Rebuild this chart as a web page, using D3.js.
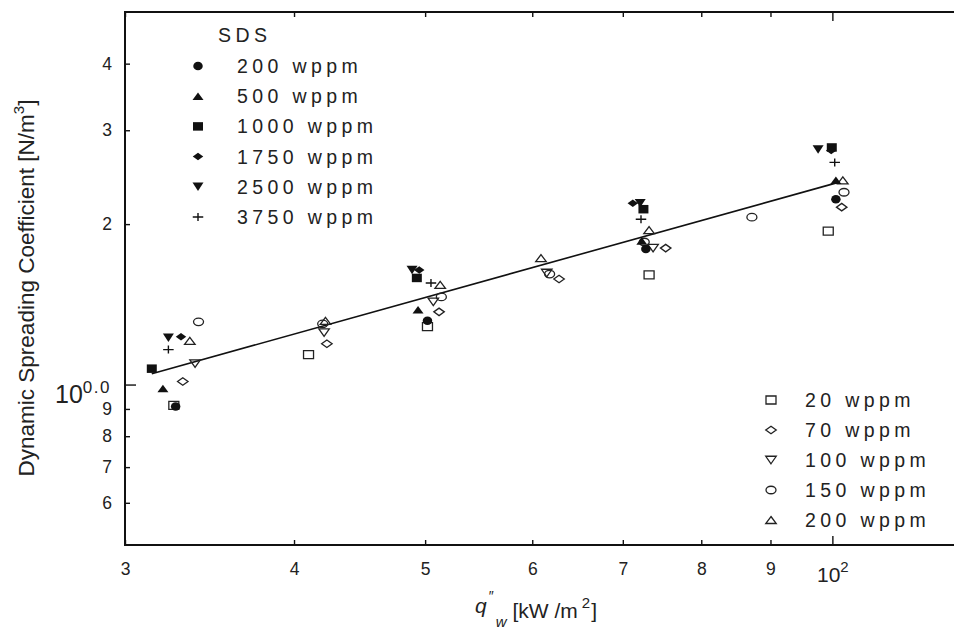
<!DOCTYPE html>
<html>
<head>
<meta charset="utf-8">
<script src="https://cdn.jsdelivr.net/npm/d3@7"></script>
<style>
body{margin:0;background:#fff}
svg{display:block;font-family:"Liberation Sans",Arial,Helvetica,sans-serif}
</style>
</head>
<body>
<svg id="chart" width="954" height="629"></svg>
<script>
// ---- data (heat flux q''w in kW/m2, coefficient values) ----
var xTicks = [30,40,50,60,70,80,90,100];
var yTicks = [6,7,8,9,10,20,30,40];

var sdsNames = ['200 wppm','500 wppm','1000 wppm','1750 wppm','2500 wppm','3750 wppm'];
var sdsKinds = ['circle','up','square','diamond','down','plus'];
var sdsQ = [
  [32.7,50.2,72.8,100.6],
  [32.0,49.4,72.3,100.6],
  [31.4,49.3,72.5,99.9],
  [33.0,49.5,71.2,99.8],
  [32.3,48.9,72.1,97.6],
  [32.3,50.5,72.2,100.4]
];
var sdsC = [
  [9.10,13.17,17.96,22.27],
  [9.83,13.81,18.59,24.16],
  [10.71,15.85,21.33,27.85],
  [12.29,16.40,21.89,27.50],
  [12.24,16.40,21.89,27.61],
  [11.63,15.51,20.43,26.11]
];

var lowNames = ['20 wppm','70 wppm','100 wppm','150 wppm','200 wppm'];
var lowKinds = ['square','diamond','down','circle','up'];
var lowQ = [
  [32.6,41.0,50.2,73.2,99.3],
  [33.1,42.3,51.2,62.8,75.3,101.6],
  [33.8,42.1,50.7,61.5,73.7],
  [34.0,42.0,51.4,61.8,72.6,87.2,102.0],
  [33.5,42.2,51.3,60.9,73.2,101.8]
];
var lowC = [
  [9.14,11.38,12.84,16.06,19.40],
  [10.13,11.93,13.69,15.78,18.03,21.52],
  [10.95,12.51,14.29,16.19,18.03],
  [13.11,13.00,14.60,16.12,18.51,20.61,22.95],
  [12.08,13.17,15.38,17.27,19.49,24.16]
];

var fitQ = [31.4,100.7];
var fitC = [10.48,23.9];

// ---- helpers ----
var sizes = {
  circle:[9.5,8.5], square:[10,8.5], up:[11,7.5], down:[11,8.5], diamond:[10.5,7.5], plus:[10.5,8]
};
var openSizes = {
  circle:[10,7.5], square:[10,8], up:[10.5,7], down:[10.5,7.5], diamond:[10.5,7.5]
};
function shape(kind,w,h){
  var a=w/2,b=h/2;
  if (kind=='circle') return 'M'+(-a)+',0A'+a+','+b+' 0 1,0 '+a+',0A'+a+','+b+' 0 1,0 '+(-a)+',0Z';
  if (kind=='square') return 'M'+(-a)+','+(-b)+'H'+a+'V'+b+'H'+(-a)+'Z';
  if (kind=='up') return 'M0,'+(-b)+'L'+a+','+b+'L'+(-a)+','+b+'Z';
  if (kind=='down') return 'M0,'+b+'L'+a+','+(-b)+'L'+(-a)+','+(-b)+'Z';
  if (kind=='diamond') return 'M0,'+(-b)+'L'+a+',0L0,'+b+'L'+(-a)+',0Z';
  return 'M'+(-a)+',0H'+a+'M0,'+(-b)+'V'+b;
}
function marker(sel,kind,filled){
  var s = filled ? sizes[kind] : openSizes[kind];
  var p = sel.append('path').attr('d',shape(kind,s[0],s[1]));
  if (kind=='plus') p.attr('fill','none').attr('stroke','#111').attr('stroke-width',1.4);
  else if (filled) p.attr('fill','#111');
  else p.attr('fill','none').attr('stroke','#222').attr('stroke-width',1.3);
  return p;
}

// ---- scales ----
var L = 125, R = 954, T = 12, B = 545;
var x = d3.scaleLog().domain([30,123]).range([L,R]);
var y = d3.scaleLog().domain([5,50]).range([B,T]);

var svg = d3.select('#chart');
var ink = '#111';

// axes
var gx = svg.append('g').attr('transform','translate(0,'+B+')')
  .call(d3.axisBottom(x).tickValues(xTicks).tickSize(-5).tickPadding(18)
    .tickFormat(function(d){return d==100?'':String(d/10);}));
var gt = svg.append('g').attr('transform','translate(0,'+T+')')
  .call(d3.axisTop(x).tickValues(xTicks).tickSize(-5).tickFormat(''));
var gy = svg.append('g').attr('transform','translate('+L+',0)')
  .call(d3.axisLeft(y).tickValues(yTicks).tickSize(-5).tickPadding(13)
    .tickFormat(function(d){return d==10?'':String(d<10?d:d/10);}));

[gx,gt,gy].forEach(function(g){
  g.select('.domain').remove();
  g.selectAll('.tick line').attr('stroke',ink).attr('stroke-width',1.4);
  g.selectAll('.tick text').attr('fill','#222').style('font-size','17.5px');
});
gx.selectAll('.tick line').filter(function(d){return d==100;}).attr('y2',-9);
gt.selectAll('.tick line').filter(function(d){return d==100;}).attr('y2',9);
gy.selectAll('.tick line').filter(function(d){return d==10;}).attr('x2',11);

// 10^2 label
var t100 = gx.selectAll('.tick').filter(function(d){return d==100;}).select('text')
  .attr('dy',null).attr('y',37).text('');
t100.append('tspan').style('font-size','21px').text('10');
t100.append('tspan').style('font-size','15px').attr('dy',-10).text('2');

// 10^0.0 label
var t10 = gy.selectAll('.tick').filter(function(d){return d==10;}).select('text')
  .attr('dy',null).attr('y',18).attr('x',-14).text('');
t10.append('tspan').style('font-size','25px').text('10');
t10.append('tspan').style('font-size','17px').style('letter-spacing','1.5px').attr('dy',-10).text('0.0');

// frame
svg.append('path')
  .attr('d','M'+(R+2)+','+T+'H'+L+'V'+B+'H'+(R+2))
  .attr('fill','none').attr('stroke',ink).attr('stroke-width',2);

// fit line
svg.append('line')
  .attr('x1',x(fitQ[0])).attr('y1',y(fitC[0]))
  .attr('x2',x(fitQ[1])).attr('y2',y(fitC[1]))
  .attr('stroke',ink).attr('stroke-width',1.6);

// open markers (low concentrations)
lowNames.forEach(function(n,i){
  var g = svg.append('g');
  lowQ[i].forEach(function(q,j){
    marker(g,lowKinds[i],false).attr('transform','translate('+x(q)+','+y(lowC[i][j])+')');
  });
});
// filled markers (SDS)
sdsNames.forEach(function(n,i){
  var g = svg.append('g');
  sdsQ[i].forEach(function(q,j){
    marker(g,sdsKinds[i],true).attr('transform','translate('+x(q)+','+y(sdsC[i][j])+')');
  });
});

// legends
var legStyle = function(t){ t.attr('fill','#222').style('font-size','19.5px').style('letter-spacing','4.4px'); };
svg.append('text').attr('x',218).attr('y',42).text('SDS').call(legStyle);
sdsNames.forEach(function(n,i){
  var cy = 66 + i*30.2;
  marker(svg,sdsKinds[i],true).attr('transform','translate(198,'+cy+')');
  svg.append('text').attr('x',237).attr('y',cy).attr('dy','0.36em').text(n).call(legStyle);
});
lowNames.forEach(function(n,i){
  var cy = 400 + i*30;
  marker(svg,lowKinds[i],false).attr('transform','translate(771,'+cy+')');
  svg.append('text').attr('x',805).attr('y',cy).attr('dy','0.36em').text(n).call(legStyle);
});

// axis titles
var yt = svg.append('text').attr('transform','translate(34,288) rotate(-90)')
  .attr('text-anchor','middle').attr('fill','#222').style('font-size','22.5px');
yt.append('tspan').text('Dynamic Spreading Coefficient [N/m');
yt.append('tspan').style('font-size','15px').attr('dy',-10).text('3');
yt.append('tspan').attr('dy',10).text(']');

var xt = svg.append('text').attr('x',475).attr('y',613).attr('fill','#222').style('font-size','21px');
xt.append('tspan').style('font-style','italic').text('q');
xt.append('tspan').style('font-size','14px').attr('dx',2).attr('dy',-12).text('\u2033');
xt.append('tspan').style('font-size','15px').style('font-style','italic').attr('dx',2).attr('dy',26).text('w');
xt.append('tspan').attr('dx',6).attr('dy',-9).text('[kW /m');
xt.append('tspan').style('font-size','15px').attr('dx',4).attr('dy',-10).text('2');
xt.append('tspan').attr('dx',1).attr('dy',10).text(']');
</script>
</body>
</html>
